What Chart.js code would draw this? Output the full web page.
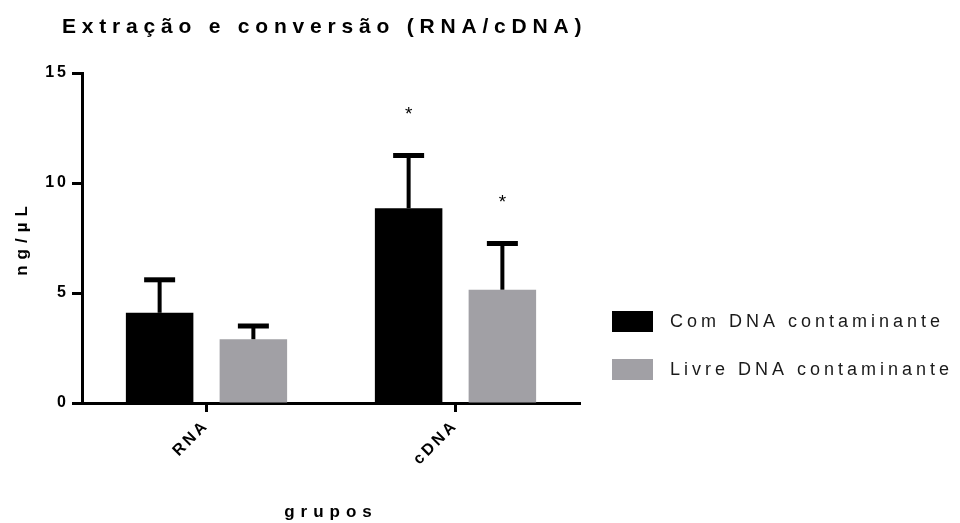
<!DOCTYPE html>
<html>
<head>
<meta charset="utf-8">
<script src="https://cdn.jsdelivr.net/npm/chart.js@4"></script>
<style>
  body { margin: 0; background: #fff; }
</style>
</head>
<body>
<canvas id="chart" width="960" height="523"></canvas>
<script>
// data
const groups = ['RNA', 'cDNA'];
const seriesNames = ['Com DNA contaminante', 'Livre DNA contaminante'];
const comMeans = [4.1, 8.85];
const comErrors = [1.5, 2.4];
const livreMeans = [2.9, 5.15];
const livreErrors = [0.6, 2.1];
const comMarks = ['', '*'];
const livreMarks = ['', '*'];
const yTicks = [0, 5, 10, 15];

const FONT = "'Liberation Sans', Arial, sans-serif";

// letter spacing per font size (the original uses widely tracked text)
const spacingBySize = { 16: 3, 17: 6, 18: 4, 21: 5.8 };

function spacingFor(font) {
    const m = /(\d+(?:\.\d+)?)px/.exec(font);
    return (m && spacingBySize[Math.round(parseFloat(m[1]))]) || 0;
}

function patchLetterSpacing(ctx) {
    const fill = ctx.fillText.bind(ctx);
    const measure = ctx.measureText.bind(ctx);
    ctx.fillText = (text, x, y, maxWidth) => {
        ctx.letterSpacing = spacingFor(ctx.font) + 'px';
        const r = maxWidth === undefined ? fill(text, x, y) : fill(text, x, y, maxWidth);
        ctx.letterSpacing = '0px';
        return r;
    };
    ctx.measureText = text => {
        ctx.letterSpacing = '0px';
        const m = measure(text);
        return {
            width: m.width + spacingFor(ctx.font) * String(text).length,
            actualBoundingBoxAscent: m.actualBoundingBoxAscent,
            actualBoundingBoxDescent: m.actualBoundingBoxDescent,
            actualBoundingBoxLeft: m.actualBoundingBoxLeft,
            actualBoundingBoxRight: m.actualBoundingBoxRight
        };
    };
}

// error bars (upward only) and significance marks
const errorBars = {
    id: 'errorBars',
    afterDatasetsDraw(chart) {
        const ctx = chart.ctx;
        const y = chart.scales.y;
        chart.data.datasets.forEach((ds, i) => {
            const meta = chart.getDatasetMeta(i);
            meta.data.forEach((bar, j) => {
                const top = y.getPixelForValue(ds.data[j] + ds.errors[j]);
                ctx.save();
                ctx.strokeStyle = '#000';
                ctx.lineWidth = 4;
                ctx.beginPath();
                ctx.moveTo(bar.x, bar.y);
                ctx.lineTo(bar.x, top);
                ctx.stroke();
                ctx.lineWidth = 5;
                ctx.beginPath();
                ctx.moveTo(bar.x - 15.5, top);
                ctx.lineTo(bar.x + 15.5, top);
                ctx.stroke();
                if (ds.marks[j]) {
                    ctx.font = '19px ' + FONT;
                    ctx.fillStyle = '#000';
                    ctx.textAlign = 'center';
                    ctx.textBaseline = 'middle';
                    ctx.fillText(ds.marks[j], bar.x, top - 41);
                }
                ctx.restore();
            });
        });
    }
};

// title over the plot and legend to the right of it
const labelsPlugin = {
    id: 'labelsPlugin',
    afterDraw(chart) {
        const ctx = chart.ctx;
        const area = chart.chartArea;
        ctx.save();
        ctx.font = 'bold 21px ' + FONT;
        ctx.fillStyle = '#000';
        ctx.textAlign = 'left';
        ctx.textBaseline = 'middle';
        ctx.fillText('Extração e conversão (RNA/cDNA)', 62, 27);

        ctx.font = '18px ' + FONT;
        chart.data.datasets.forEach((ds, i) => {
            const x = area.right + 32;
            const y = area.bottom - 92 + i * 48;
            ctx.fillStyle = ds.backgroundColor;
            ctx.fillRect(x, y, 41, 21);
            ctx.fillStyle = '#1a1a1a';
            ctx.fillText(ds.label, x + 58, y + 11);
        });
        ctx.restore();
    }
};

const canvas = document.getElementById('chart');
const ctx = canvas.getContext('2d');
patchLetterSpacing(ctx);

new Chart(ctx, {
    type: 'bar',
    data: {
        labels: groups,
        datasets: [
            {
                label: seriesNames[0],
                data: comMeans,
                errors: comErrors,
                marks: comMarks,
                backgroundColor: '#000000'
            },
            {
                label: seriesNames[1],
                data: livreMeans,
                errors: livreErrors,
                marks: livreMarks,
                backgroundColor: '#a1a0a5'
            }
        ]
    },
    options: {
        responsive: false,
        animation: false,
        categoryPercentage: 0.753,
        barPercentage: 0.72,
        layout: { padding: { top: 73, left: 10, right: 380, bottom: 0 } },
        plugins: {
            title: { display: false },
            tooltip: { enabled: false },
            legend: { display: false }
        },
        scales: {
            x: {
                afterFit: scale => { scale.height = 120; },
                border: { display: true, color: '#000', width: 3 },
                grid: {
                    offset: false,
                    drawOnChartArea: false,
                    color: '#000',
                    tickLength: 9,
                    tickWidth: 3
                },
                ticks: {
                    color: '#000',
                    minRotation: 45,
                    maxRotation: 45,
                    padding: 4,
                    font: { family: FONT, size: 16, weight: 'bold' }
                },
                title: {
                    display: true,
                    text: 'grupos',
                    color: '#000',
                    padding: { top: 20, bottom: 0 },
                    font: { family: FONT, size: 17, weight: 'bold' }
                }
            },
            y: {
                min: 0,
                max: 15,
                afterFit: scale => { scale.width = 72; },
                afterBuildTicks: scale => { scale.ticks = yTicks.map(v => ({ value: v })); },
                border: { display: true, color: '#000', width: 3 },
                grid: {
                    drawOnChartArea: false,
                    color: '#000',
                    tickLength: 10,
                    tickWidth: 3
                },
                ticks: {
                    color: '#000',
                    padding: 3,
                    font: { family: FONT, size: 16, weight: 'bold' }
                },
                title: {
                    display: true,
                    text: 'ng/µL',
                    color: '#000',
                    padding: { top: 2, bottom: 0 },
                    font: { family: FONT, size: 17, weight: 'bold' }
                }
            }
        }
    },
    plugins: [errorBars, labelsPlugin]
});
</script>
</body>
</html>
